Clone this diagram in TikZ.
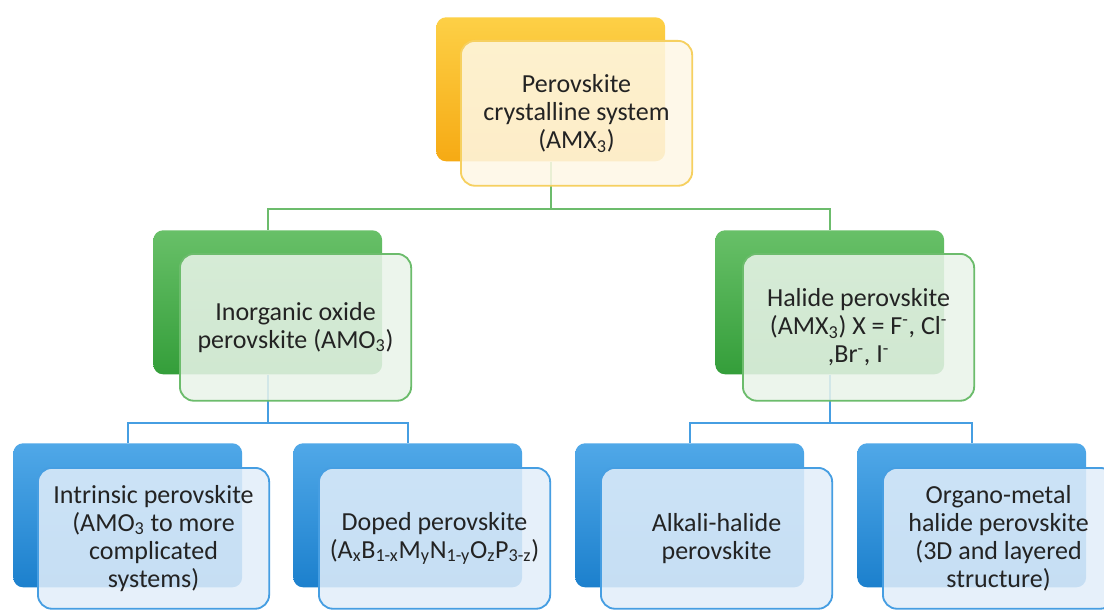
\documentclass[tikz,border=0pt]{standalone}
\usepackage{fontspec}
\setmainfont{Carlito}
\definecolor{orgtop}{RGB}{253,208,70}
\definecolor{orgbot}{RGB}{246,170,20}
\definecolor{orgline}{RGB}{246,208,96}
\definecolor{orgfill}{RGB}{254,248,230}
\definecolor{grntop}{RGB}{104,192,104}
\definecolor{grnbot}{RGB}{52,158,58}
\definecolor{grnline}{RGB}{108,188,108}
\definecolor{grnfill}{RGB}{234,244,234}
\definecolor{blutop}{RGB}{80,168,232}
\definecolor{blubot}{RGB}{28,128,205}
\definecolor{bluline}{RGB}{70,158,226}
\definecolor{blufill}{RGB}{226,238,250}
\definecolor{txt}{RGB}{35,35,35}
\tikzset{
  backbox/.style={rounded corners=7pt, inner sep=0pt, anchor=north west,
    minimum width=5.72cm, minimum height=3.6cm},
  frontbox/.style={rounded corners=10pt, draw, line width=1.3pt, anchor=north west,
    minimum width=5.78cm, minimum height=3.67cm, fill opacity=0.86, text opacity=1,
    align=center, text=txt, font=\fontsize{18.5}{20}\selectfont},
  gline/.style={draw=grnline, line width=1.3pt},
  bline/.style={draw=bluline, line width=1.3pt}
}
\begin{document}
\begin{tikzpicture}[x=0.025cm, y=-0.025cm]
  \useasboundingbox[fill=white] (0,0) rectangle (1104,610);

  % back boxes
  \node[backbox, top color=orgtop, bottom color=orgbot] (0b) at (436,17) {};
  \node[backbox, top color=grntop, bottom color=grnbot] (1b) at (153,230) {};
  \node[backbox, top color=grntop, bottom color=grnbot] (2b) at (715,230) {};
  \node[backbox, top color=blutop, bottom color=blubot] (11b) at (13,443) {};
  \node[backbox, top color=blutop, bottom color=blubot] (12b) at (293,443) {};
  \node[backbox, top color=blutop, bottom color=blubot] (21b) at (575,443) {};
  \node[backbox, top color=blutop, bottom color=blubot] (22b) at (857,443) {};

  % connectors
  \draw[gline] (0b.south) -- ++(0,47) -| (1b.north);
  \draw[gline] (0b.south) -- ++(0,47) -| (2b.north);
  \draw[bline] (1b.south) -- ++(0,48) -| (11b.north);
  \draw[bline] (1b.south) -- ++(0,48) -| (12b.north);
  \draw[bline] (2b.south) -- ++(0,48) -| (21b.north);
  \draw[bline] (2b.south) -- ++(0,48) -| (22b.north);

  % front boxes
  \node[frontbox, draw=orgline, fill=orgfill, minimum height=3.62cm] (0) at (460,40)
    {Perovskite\\crystalline system\\(AMX\textsubscript{3})};
  \node[frontbox, draw=grnline, fill=grnfill] (1) at (179,253)
    {Inorganic oxide\\perovskite (AMO\textsubscript{3})};
  \node[frontbox, draw=grnline, fill=grnfill] (2) at (742,253)
    {Halide perovskite\\(AMX\textsubscript{3}) X = F\textsuperscript{-}, Cl\textsuperscript{-}\\,Br\textsuperscript{-}, I\textsuperscript{-}};
  \node[frontbox, draw=bluline, fill=blufill, minimum height=3.52cm] (11) at (37,467)
    {Intrinsic perovskite\\(AMO\textsubscript{3} to more\\complicated\\systems)};
  \node[frontbox, draw=bluline, fill=blufill, minimum height=3.52cm] (12) at (318,467)
    {Doped perovskite\\(A\textsubscript{x}B\textsubscript{1-x}M\textsubscript{y}N\textsubscript{1-y}O\textsubscript{z}P\textsubscript{3-z})};
  \node[frontbox, draw=bluline, fill=blufill, minimum height=3.52cm] (21) at (600,467)
    {Alkali-halide\\perovskite};
  \node[frontbox, draw=bluline, fill=blufill, minimum height=3.52cm] (22) at (882,467)
    {Organo-metal\\halide perovskite\\(3D and layered\\structure)};
\end{tikzpicture}
\end{document}
